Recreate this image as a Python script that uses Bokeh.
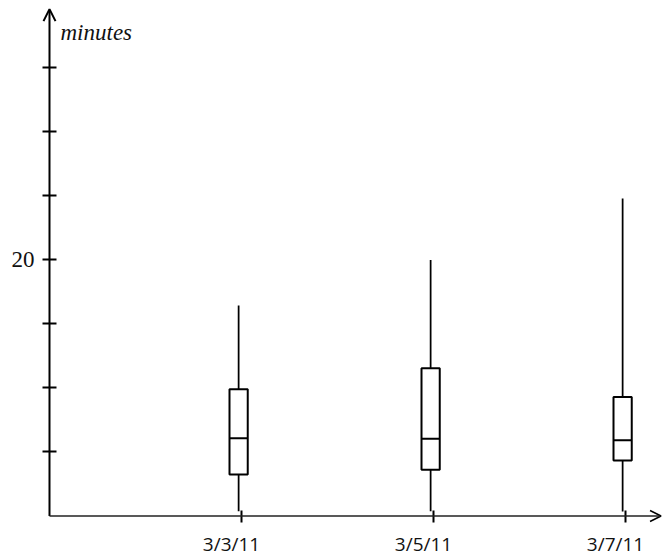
from bokeh.plotting import figure
from bokeh.models import (ColumnDataSource, Range1d, LinearAxis, FixedTicker,
                          Arrow, OpenHead, Label, LabelSet)
from bokeh.core.properties import value
from bokeh.transform import dodge
from bokeh.embed import file_html
from bokeh.resources import INLINE

# ---- data ----
dates = ["3/3/11", "3/5/11", "3/7/11"]
days = [3, 5, 7]                 # day of March
w_max = [16.45, 20.0, 24.8]
q3 = [9.9, 11.55, 9.3]
median = [6.08, 6.03, 5.92]
q1 = [3.24, 3.61, 4.34]
w_min = [0.37, 0.37, 0.35]
y_ticks = [5, 10, 15, 20, 25, 30, 35]
y_labelled = {20: "20"}

src = ColumnDataSource(dict(day=days, date=dates, wmax=w_max, q3=q3,
                            med=median, q1=q1, wmin=w_min))

p = figure(width=666, height=558, output_backend="svg", toolbar_location=None,
           x_range=Range1d(0.4896, 7.427), y_range=Range1d(-3.32, 40.27),
           x_axis_type=None, y_axis_type=None, title=None,
           min_border_left=0, min_border_right=0, min_border_top=0,
           min_border_bottom=0)
p.outline_line_color = None
p.background_fill_color = "white"
p.border_fill_color = "white"

# y axis (crossing at day 1)
yaxis = LinearAxis(ticker=FixedTicker(ticks=y_ticks, minor_ticks=[]),
                   fixed_location=1)
yaxis.major_label_overrides = {t: y_labelled.get(t, "") for t in y_ticks}
yaxis.axis_line_color = None
yaxis.major_tick_line_width = 2
yaxis.major_tick_line_color = "black"
yaxis.major_tick_in = 7
yaxis.major_tick_out = 7
yaxis.minor_tick_line_color = None
yaxis.major_label_standoff = 8
yaxis.major_label_text_font = "Liberation Serif"
yaxis.major_label_text_font_size = "23px"
yaxis.major_label_text_color = "#111111"
p.add_layout(yaxis, "left")

# x axis (crossing at 0 minutes)
xaxis = LinearAxis(ticker=FixedTicker(ticks=days, minor_ticks=[]),
                   fixed_location=0)
xaxis.major_label_overrides = {d: "" for d in days}
xaxis.major_label_text_font_size = "1px"
xaxis.major_label_standoff = 0
xaxis.axis_line_color = None
xaxis.major_tick_line_width = 2
xaxis.major_tick_line_color = "black"
xaxis.major_tick_in = 6
xaxis.major_tick_out = 6
xaxis.minor_tick_line_color = None
p.add_layout(xaxis, "below")

# axis lines with arrow heads
p.add_layout(Arrow(end=OpenHead(size=12, line_width=2, line_color="black"),
                   x_start=1, y_start=0, x_end=1, y_end=39.6,
                   line_width=2, line_color="black"))
p.add_layout(Arrow(end=OpenHead(size=11, line_width=1.5, line_color="black"),
                   x_start=1, y_start=0, x_end=7.37, y_end=0,
                   line_width=1.5, line_color="#222222"))

xd = dodge("day", -0.03)

# whiskers
p.segment(x0=xd, y0="q3", x1=xd, y1="wmax", source=src,
          line_color="black", line_width=1.75)
p.segment(x0=xd, y0="wmin", x1=xd, y1="q1", source=src,
          line_color="black", line_width=1.75)
# boxes
p.vbar(x=xd, top="q3", bottom="q1", width=0.19, source=src,
       fill_color="white", line_color="black", line_width=2)
# medians
p.vbar(x=xd, top="med", bottom="med", width=0.19, source=src,
       fill_color=None, line_color="black", line_width=2)

# labels
p.add_layout(Label(x=1, y=37.77, x_offset=11, text="minutes",
                   text_font="Liberation Serif", text_font_style="italic",
                   text_font_size="23px", text_color="#111111",
                   text_baseline="alphabetic"))
p.add_layout(LabelSet(x="day", y=-2.7, x_offset=-10, text="date", source=src,
                      text_font=value("Open Sans"),
                      text_font_size=value("19px"),
                      text_color="#111111", text_align="center",
                      text_baseline="alphabetic"))

open("out.html", "w").write(file_html(p, INLINE))
